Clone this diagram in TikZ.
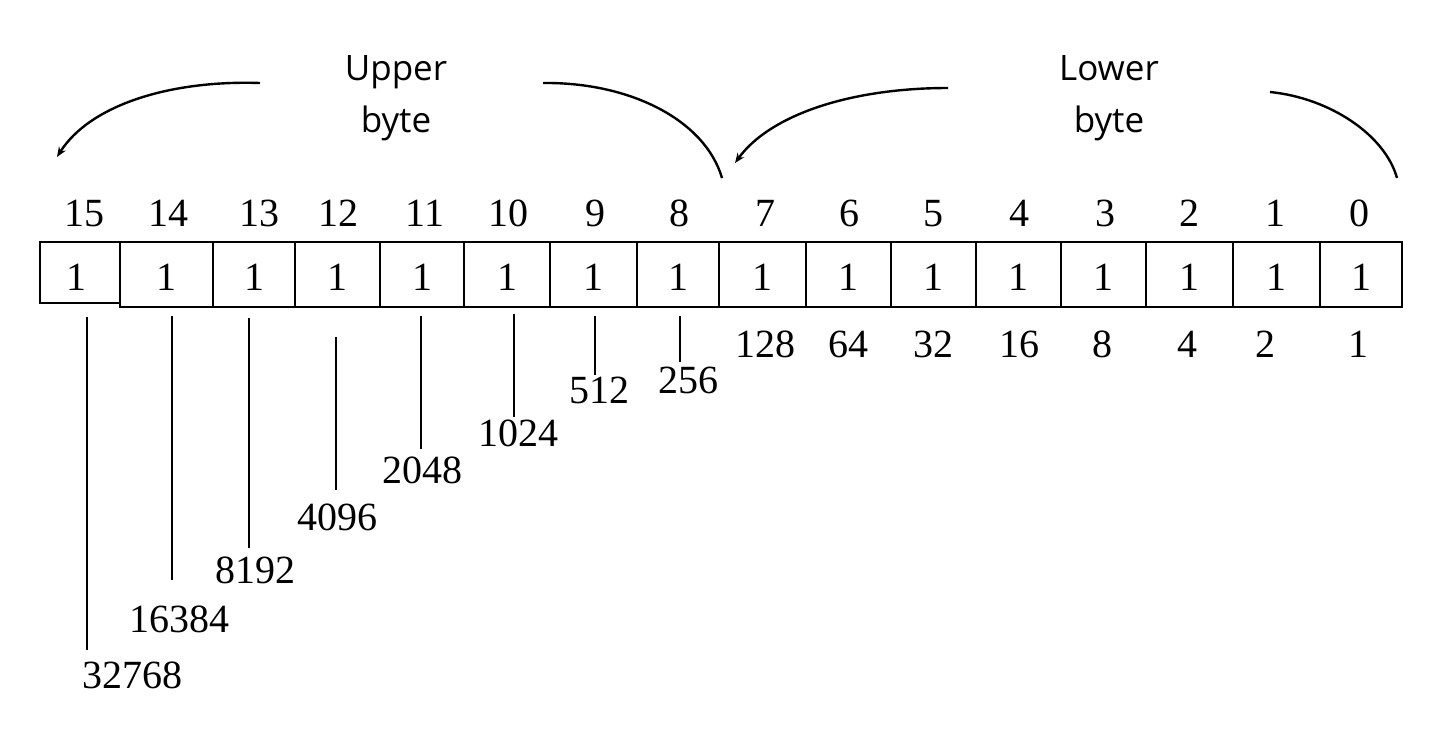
\documentclass[tikz,border=0pt]{standalone}
\usepackage{fontspec}
\setmainfont{Liberation Serif}
\newfontfamily\labelsans{Open Sans}
\usetikzlibrary{arrows.meta}
\begin{document}
\begin{tikzpicture}[x=1pt,y=-1pt,
  cellbox/.style={draw,line width=2.5pt,inner sep=0pt,minimum height=65pt},
  cellval/.style={inner sep=0pt,anchor=base,font=\fontsize{40}{48}\selectfont},
  bitnum/.style={inner sep=0pt,anchor=base,font=\fontsize{40}{48}\selectfont},
  weight/.style={inner sep=0pt,anchor=base,font=\fontsize{40}{48}\selectfont},
  bytelabel/.style={inner sep=0pt,anchor=north,align=center,font=\labelsans\fontsize{35}{52}\selectfont},
  stem/.style={line width=2.4pt},
  bracket/.style={line width=2.4pt},
  bracketarrow/.style={line width=2.4pt,-{Stealth[length=10pt,width=8pt]}}]
\useasboundingbox (0,0) rectangle (1452,744);
% cells
\node[cellbox,minimum width=80pt,minimum height=61pt] (c15) at (80,272.5) {};
\node[cellval] (v15) at (76,290) {1};
\foreach \n/\l/\r in {14/120/213,13/213/295,12/295/380,11/380/464,10/464/550,9/550/637,8/637/719,7/719/806,6/806/891,5/891/976,4/976/1061,3/1061/1146,2/1146/1233,1/1233/1320,0/1320/1402}{
  \pgfmathsetmacro\w{\r-\l}
  \pgfmathsetmacro\cx{(\r+\l)/2}
  \node[cellbox,minimum width=\w pt] (c\n) at (\cx,274.5) {};
  \node[cellval] (v\n) at (c\n.center |- 0,290) {1};
}
% bit numbers
\foreach \n/\x in {15/84,14/168,13/259,12/338,11/425,10/508,9/595,8/679,7/765,6/849,5/933,4/1019,3/1105,2/1189,1/1275,0/1359}{
  \node[bitnum] (b\n) at (\x,226) {\n};
}
% lower byte weights
\foreach \n/\v/\x in {7/128/765,6/64/848,5/32/933,4/16/1019,3/8/1102,2/4/1187,1/2/1265,0/1/1358}{
  \node[weight] (w\n) at (\x,357) {\v};
}
% upper byte weights with stems
\foreach \n/\v/\lx/\ly/\sx/\st/\sb in {15/32768/132/688/87/317/650,14/16384/179/632/172/316/580,13/8192/255/583/249/318/548,12/4096/337/530/336/337/490,11/2048/422/483/421/316/449,10/1024/518/446/514/314/417,9/512/599/403/595/316/375,8/256/688/393/680/316/362}{
  \node[weight] (w\n) at (\lx,\ly) {\v};
  \coordinate (s\n top) at (\sx,\st);
  \coordinate (s\n bot) at (\sx,\sb);
  \draw[stem] (s\n top) -- (s\n bot);
}
% byte labels
\node[bytelabel] (upper) at (396,55) {Upper\\byte};
\node[bytelabel] (lower) at (1109,55) {Lower\\byte};
% brackets
\coordinate (u1) at (260,83);
\coordinate (u2) at (57,157);
\coordinate (u3) at (543,83);
\coordinate (u4) at (722,178);
\coordinate (l1) at (948,88);
\coordinate (l2) at (735,163);
\coordinate (l3) at (1270,92);
\coordinate (l4) at (1397,178);
\draw[bracketarrow] (u1) .. controls (170,80) and (90,105) .. (u2);
\draw[bracket] (u3) .. controls (630,82) and (705,120) .. (u4);
\draw[bracketarrow] (l1) .. controls (850,88) and (770,115) .. (l2);
\draw[bracket] (l3) .. controls (1330,98) and (1385,135) .. (l4);
\end{tikzpicture}
\end{document}
